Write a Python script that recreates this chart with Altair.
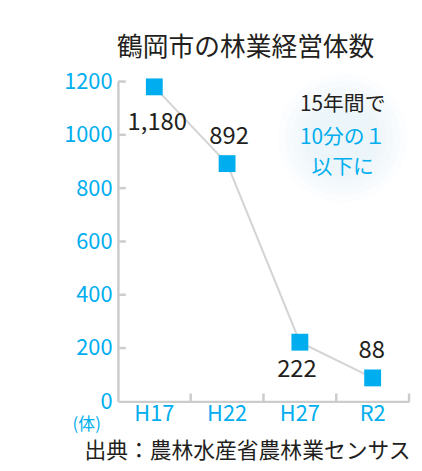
import altair as alt
import pandas as pd

years = ["H17", "H22", "H27", "R2"]
counts = [1180, 892, 222, 88]
count_labels = ["1,180", "892", "222", "88"]
y_ticks = [0, 200, 400, 600, 800, 1000, 1200]
note_lines = ["15年間で", "10分の１", "以下に"]

FONT = "Noto Sans CJK JP"
BLUE = "#00aeef"
GRAY = "#cccccc"
DARK = "#231f20"

# label placement (style): dx, dy per label
label_offsets = {"1,180": (3, 37), "892": (2, -27), "222": (-3, 28), "88": (-1, -27)}

df = pd.DataFrame({"year": years, "count": counts, "label": count_labels})
ticks_df = pd.DataFrame({"v": y_ticks[1:]})

W, H = 294, 323

xenc = alt.X("year:N", sort=years,
             scale=alt.Scale(paddingInner=0, paddingOuter=0),
             axis=alt.Axis(title="出典：農林水産省農林業センサス", titleFont=FONT, titleFontSize=22,
                           titleFontWeight="normal", titleColor=DARK, titleAlign="right",
                           titleAnchor="end", titleX=W + 1, titleY=50, titleBaseline="middle",
                           labelFont=FONT, labelFontSize=22, labelColor=BLUE, labelPadding=2,
                           labelAngle=0, tickSize=0, domainColor=GRAY, domainWidth=2.5))
yscale = alt.Scale(domain=[0, 1200], nice=False)
yenc = alt.Y("count:Q", scale=yscale,
             axis=alt.Axis(values=y_ticks, format="d", title="(体)", titleAngle=0, titleFont=FONT,
                           titleFontSize=17, titleFontWeight="normal", titleColor=BLUE,
                           titleX=-32, titleY=346, titleAlign="center", titleBaseline="middle",
                           labelFont=FONT, labelFontSize=22, labelColor=BLUE, labelPadding=6,
                           tickSize=0, domainColor=GRAY, domainWidth=2.5, grid=False))

base = alt.Chart(df)

glow = alt.layer(*[
    alt.Chart(pd.DataFrame({"a": [0]})).mark_circle(color="#dcf0fa", opacity=0.12, size=s).encode(
        x=alt.value(227), y=alt.value(57))
    for s in [17000, 13500, 10500, 8000, 6000, 4200]
])

notes = alt.layer(*[
    alt.Chart(pd.DataFrame({"t": [t]})).mark_text(font=FONT, fontSize=21,
                                                  color=(DARK if i == 0 else BLUE)).encode(
        x=alt.value(227), y=alt.value(yv), text="t:N")
    for i, (t, yv) in enumerate(zip(note_lines, [24, 57, 87]))
])

xticks = base.mark_rule(color=GRAY, strokeWidth=2.5).encode(
    x=alt.X("year:N", sort=years, bandPosition=1), y=alt.value(H), y2=alt.value(H - 8))
yticks = alt.Chart(ticks_df).mark_rule(color=GRAY, strokeWidth=2.5).encode(
    y=alt.Y("v:Q", scale=yscale), x=alt.value(0), x2=alt.value(8))

line = base.mark_line(color="#d4d4d4", strokeWidth=2).encode(x=xenc, y=yenc)
pts = base.mark_square(color=BLUE, size=290, opacity=1).encode(x=alt.X("year:N", sort=years), y="count:Q")

labels = [
    base.transform_filter(alt.datum.label == lab).mark_text(
        font=FONT, fontSize=24, color=DARK, dx=dx, dy=dy).encode(
        x=alt.X("year:N", sort=years), y="count:Q", text="label:N")
    for lab, (dx, dy) in label_offsets.items()
]

chart = alt.layer(glow, notes, line, xticks, yticks, pts, *labels).properties(
    width=W, height=H,
    title=alt.TitleParams("鶴岡市の林業経営体数", font=FONT, fontSize=26, fontWeight="normal",
                          color=DARK, anchor="middle", frame="group", dx=-18, offset=10),
    autosize=alt.AutoSizeParams(type="none"),
    padding={"left": 111, "top": 72, "right": 5, "bottom": 62},
).configure_view(stroke=None)

chart.save("out.html", embed_options={"renderer": "svg", "actions": False})
